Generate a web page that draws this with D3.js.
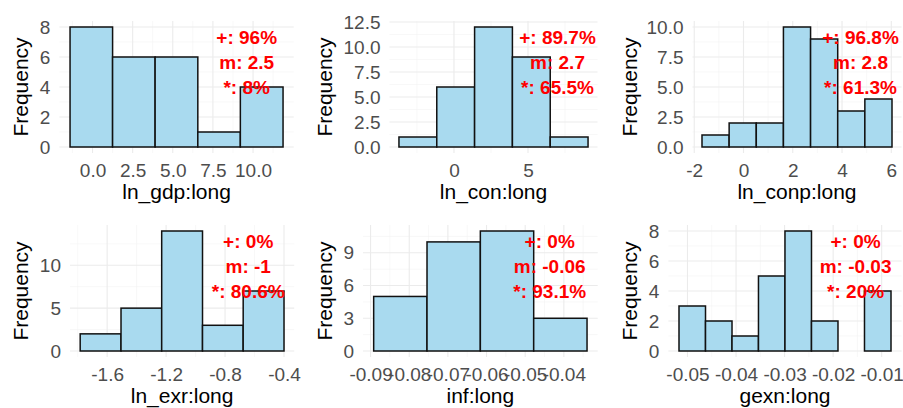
<!DOCTYPE html>
<html><head><meta charset="utf-8">
<script src="https://cdn.jsdelivr.net/npm/d3@7"></script>
<style>body{margin:0;background:#fff}svg{display:block}</style>
</head><body><svg id="c" width="903" height="408"></svg>
<script>
// ---------- data ----------
const titles = ["ln_gdp:long","ln_con:long","ln_conp:long","ln_exr:long","inf:long","gexn:long"];

const gdpEdges  = [-1.40, 1.25, 3.90, 6.56, 9.21, 11.87];
const gdpCounts = [8, 6, 6, 1, 4];
const conEdges  = [-3.716, -1.162, 1.392, 3.946, 6.500, 9.054];
const conCounts = [1, 6, 12, 9, 1];
const conpEdges  = [-1.685, -0.583, 0.519, 1.621, 2.723, 3.825, 4.927, 6.029];
const conpCounts = [1, 2, 2, 10, 9, 3, 4];
const exrEdges  = [-1.783, -1.506, -1.230, -0.953, -0.677, -0.400];
const exrCounts = [2, 5, 14, 3, 7];
const infEdges  = [-0.0892, -0.0754, -0.0616, -0.0478, -0.0340];
const infCounts = [5, 10, 11, 3];
const gexnEdges  = [-0.05175, -0.04629, -0.04083, -0.03538, -0.02992, -0.02446, -0.01900, -0.01354, -0.00808];
const gexnCounts = [3, 2, 1, 5, 8, 2, 0, 4];

const gdpXTicks = [0, 2.5, 5, 7.5, 10];      const gdpXLabels = ["0.0","2.5","5.0","7.5","10.0"];
const conXTicks = [0, 5];                    const conXLabels = ["0","5"];
const conpXTicks = [-2, 0, 2, 4, 6];         const conpXLabels = ["-2","0","2","4","6"];
const exrXTicks = [-1.6, -1.2, -0.8, -0.4];  const exrXLabels = ["-1.6","-1.2","-0.8","-0.4"];
const infXTicks = [-0.09, -0.08, -0.07, -0.06, -0.05, -0.04];
const infXLabels = ["-0.09","-0.08","-0.07","-0.06","-0.05","-0.04"];
const gexnXTicks = [-0.05, -0.04, -0.03, -0.02, -0.01];
const gexnXLabels = ["-0.05","-0.04","-0.03","-0.02","-0.01"];

const gdpYTicks = [0, 2, 4, 6, 8];            const gdpYLabels = ["0","2","4","6","8"];
const conYTicks = [0, 2.5, 5, 7.5, 10, 12.5]; const conYLabels = ["0.0","2.5","5.0","7.5","10.0","12.5"];
const conpYTicks = [0, 2.5, 5, 7.5, 10];      const conpYLabels = ["0.0","2.5","5.0","7.5","10.0"];
const exrYTicks = [0, 5, 10];                 const exrYLabels = ["0","5","10"];
const infYTicks = [0, 3, 6, 9];               const infYLabels = ["0","3","6","9"];
const gexnYTicks = [0, 2, 4, 6, 8];           const gexnYLabels = ["0","2","4","6","8"];

const plusPct  = ["96%", "89.7%", "96.8%", "0%", "0%", "0%"];
const meanVals = ["2.5", "2.7", "2.8", "-1", "-0.06", "-0.03"];
const starPct  = ["8%", "65.5%", "61.3%", "80.6%", "93.1%", "20%"];

// ---------- assemble ----------
const edgesList  = [gdpEdges, conEdges, conpEdges, exrEdges, infEdges, gexnEdges];
const countsList = [gdpCounts, conCounts, conpCounts, exrCounts, infCounts, gexnCounts];
const xTickList  = [gdpXTicks, conXTicks, conpXTicks, exrXTicks, infXTicks, gexnXTicks];
const xLabList   = [gdpXLabels, conXLabels, conpXLabels, exrXLabels, infXLabels, gexnXLabels];
const yTickList  = [gdpYTicks, conYTicks, conpYTicks, exrYTicks, infYTicks, gexnYTicks];
const yLabList   = [gdpYLabels, conYLabels, conpYLabels, exrYLabels, infYLabels, gexnYLabels];

// layout (plot areas)
const plotLeft  = [59.4, 389.5, 692.5, 70.0, 363.0, 668.4];
const plotRight = [293.7, 597.5, 901.5, 294.2, 597.7, 901.6];
const rowTop = [21, 225], rowBottom = [153, 357];
const yTitleX = [21, 325, 630];
const annoOffset = [47, 40, 41, 46, 48, 46];

const FONT = "'Liberation Sans', Arial, Helvetica, sans-serif";
const svg = d3.select("#c");
svg.append("rect").attr("width",903).attr("height",408).attr("fill","#fff");

for (let i = 0; i < 6; i++) {
  const row = Math.floor(i / 3), col = i % 3;
  const edges = edgesList[i], counts = countsList[i];
  const L = plotLeft[i], R = plotRight[i], T = rowTop[row], B = rowBottom[row];
  const xmin = edges[0], xmax = edges[edges.length - 1], span = xmax - xmin;
  const x = d3.scaleLinear().domain([xmin - 0.05 * span, xmax + 0.05 * span]).range([L, R]);
  const cmax = d3.max(counts);
  const y = d3.scaleLinear().domain([-0.05 * cmax, cmax * 1.05]).range([B, T]);
  const g = svg.append("g");

  // grid
  const xt = xTickList[i], yt = yTickList[i];
  const xstep = xt.length > 1 ? xt[1] - xt[0] : 1, ystep = yt[1] - yt[0];
  const xd = x.domain(), yd = y.domain();
  const xMinor = [], yMinor = [];
  for (let v = xt[0] - xstep / 2; v <= xd[1]; v += xstep) if (v >= xd[0]) xMinor.push(v);
  for (let v = yt[0] - ystep / 2; v <= yd[1]; v += ystep) if (v >= yd[0]) yMinor.push(v);
  g.selectAll(".gxm").data(xMinor).join("line").attr("x1", d => x(d)).attr("x2", d => x(d))
    .attr("y1", T).attr("y2", B).attr("stroke", "#f3f3f3").attr("stroke-width", 0.6);
  g.selectAll(".gym").data(yMinor).join("line").attr("y1", d => y(d)).attr("y2", d => y(d))
    .attr("x1", L).attr("x2", R).attr("stroke", "#f3f3f3").attr("stroke-width", 0.6);
  g.selectAll(".gx").data(xt).join("line").attr("x1", d => x(d)).attr("x2", d => x(d))
    .attr("y1", T).attr("y2", B).attr("stroke", "#ebebeb").attr("stroke-width", 1.1);
  g.selectAll(".gy").data(yt).join("line").attr("y1", d => y(d)).attr("y2", d => y(d))
    .attr("x1", L).attr("x2", R).attr("stroke", "#ebebeb").attr("stroke-width", 1.1);

  // bars
  const bins = counts.map((c, k) => ({x0: edges[k], x1: edges[k + 1], c}));
  g.selectAll(".bar").data(bins.filter(b => b.c > 0)).join("rect")
    .attr("x", d => x(d.x0)).attr("width", d => x(d.x1) - x(d.x0))
    .attr("y", d => y(d.c)).attr("height", d => y(0) - y(d.c))
    .attr("fill", "#a9daef").attr("stroke", "#111").attr("stroke-width", 1.5);

  // axes
  const xl = xLabList[i], yl = yLabList[i];
  const xa = g.append("g").attr("transform", `translate(0,${B})`)
    .call(d3.axisBottom(x).tickValues(xt).tickFormat((d, k) => xl[k]).tickSize(0).tickPadding(10.5));
  const ya = g.append("g").attr("transform", `translate(${L},0)`)
    .call(d3.axisLeft(y).tickValues(yt).tickFormat((d, k) => yl[k]).tickSize(0).tickPadding(9));
  [xa, ya].forEach(a => {
    a.select(".domain").remove();
    a.selectAll("text").attr("font-family", FONT).attr("font-size", 19).attr("fill", "#4d4d4d");
  });

  // titles
  g.append("text").attr("x", (L + R) / 2).attr("y", B + 46).attr("text-anchor", "middle")
    .attr("font-family", FONT).attr("font-size", 21).attr("fill", "#000").text(titles[i]);
  g.append("text").attr("transform", `translate(${yTitleX[col] + 7},${(T + B) / 2}) rotate(-90)`)
    .attr("text-anchor", "middle").attr("font-family", FONT).attr("font-size", 21).attr("fill", "#000")
    .text("Frequency");

  // annotation
  const ax = R - annoOffset[i];
  const lines = ["+: " + plusPct[i], "m: " + meanVals[i], "*: " + starPct[i]];
  g.selectAll(".anno").data(lines).join("text")
    .attr("x", ax).attr("y", (d, k) => T + 23 + 25 * k).attr("text-anchor", "middle")
    .attr("font-family", FONT).attr("font-size", 19).attr("font-weight", "bold").attr("fill", "#ff0000")
    .text(d => d);
}
</script></body></html>
